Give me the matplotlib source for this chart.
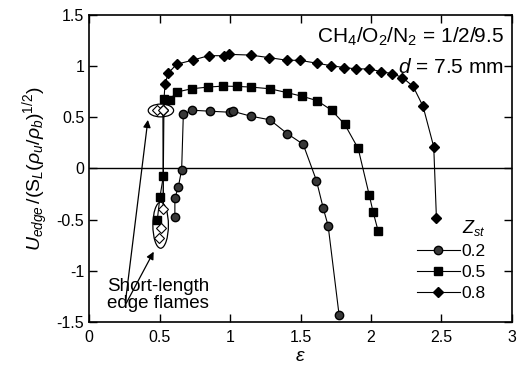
import matplotlib.pyplot as plt
from matplotlib.patches import Ellipse

plt.rcParams['font.family'] = ['Liberation Sans', 'DejaVu Sans']
plt.rcParams['mathtext.fontset'] = 'custom'
plt.rcParams['mathtext.rm'] = 'Liberation Sans'
plt.rcParams['mathtext.it'] = 'Liberation Sans:italic'

# Z_st = 0.2
eps_02 = [0.609, 0.609, 0.633, 0.657, 0.669, 0.728, 0.858, 0.999, 1.018, 1.146, 1.283,
          1.406, 1.519, 1.613, 1.661, 1.696, 1.774]
u_02 = [-0.477, -0.29, -0.184, -0.013, 0.526, 0.568, 0.558, 0.548, 0.558, 0.51, 0.474,
        0.339, 0.235, -0.119, -0.387, -0.561, -1.435]

# Z_st = 0.5
eps_05 = [0.484, 0.503, 0.527, 0.532, 0.574, 0.621, 0.728, 0.846, 0.952, 1.047, 1.146,
          1.283, 1.406, 1.514, 1.618, 1.72, 1.814, 1.909, 1.987, 2.015, 2.051]
u_05 = [-0.506, -0.281, -0.077, 0.681, 0.671, 0.745, 0.777, 0.794, 0.803, 0.8, 0.794,
        0.777, 0.739, 0.703, 0.661, 0.568, 0.429, 0.194, -0.258, -0.426, -0.613]

# Z_st = 0.8
eps_08 = [0.527, 0.539, 0.562, 0.621, 0.739, 0.848, 0.959, 0.995, 1.146, 1.278, 1.406,
          1.495, 1.618, 1.715, 1.81, 1.897, 1.987, 2.069, 2.147, 2.223, 2.299, 2.369,
          2.445, 2.464]
u_08 = [0.57, 0.823, 0.929, 1.016, 1.058, 1.1, 1.1, 1.113, 1.106, 1.081, 1.055,
        1.055, 1.026, 1.003, 0.984, 0.971, 0.971, 0.945, 0.926, 0.887, 0.8, 0.606,
        0.21, -0.484]

# short-length edge flames (open diamonds)
eps_short = [0.482, 0.525, 0.527, 0.508, 0.498]
u_short = [0.573, 0.565, -0.394, -0.587, -0.684]

fig = plt.figure(figsize=(5.19, 3.68), dpi=100)
ax = fig.add_axes([0.1715, 0.125, 0.815, 0.835])

ax.axhline(0, color='black', lw=1)

# vertical link of short flames
ax.plot([0.525, 0.527], [0.565, -0.394], color='black', lw=1)

ax.plot(eps_02, u_02, '-o', color='black', lw=0.8, ms=6, mfc='#383838', mec='black',
        label='0.2')
ax.plot(eps_05, u_05, '-s', color='black', lw=0.8, ms=6, label='0.5')
ax.plot(eps_08, u_08, '-D', color='black', lw=0.8, ms=4.8, label='0.8')
ax.plot(eps_short, u_short, 'D', ls='none', ms=5, mfc='white', mec='black', mew=0.8)

ax.add_patch(Ellipse((0.51, 0.565), 0.18, 0.125, fill=False, ec='black', lw=0.9))
ax.add_patch(Ellipse((0.508, -0.555), 0.11, 0.45, fill=False, ec='black', lw=0.9))

ax.annotate('', xy=(0.42, 0.5), xytext=(0.255, -1.34),
            arrowprops=dict(arrowstyle='-|>', color='black', lw=0.9, mutation_scale=11))
ax.annotate('', xy=(0.468, -0.79), xytext=(0.255, -1.34),
            arrowprops=dict(arrowstyle='-|>', color='black', lw=0.9, mutation_scale=11))
ax.text(0.125, -1.235, 'Short-length\nedge flames', fontsize=13.5, va='center', ha='left',
        linespacing=1.05)

ax.text(2.94, 1.28, r'CH$_4$/O$_2$/N$_2$ = 1/2/9.5', fontsize=15, ha='right', va='center')
ax.text(2.94, 0.98, r'$d$ = 7.5 mm', fontsize=15, ha='right', va='center')

leg = ax.legend(title=r'$Z_{st}$', loc='lower right', bbox_to_anchor=(0.955, 0.045),
                frameon=False, fontsize=12.5, handlelength=2.5, handletextpad=0.1,
                labelspacing=0.35, borderaxespad=0)
leg.get_title().set_fontsize(13)
leg._legend_box.align = 'right'

ax.set_xlim(0, 3)
ax.set_ylim(-1.5, 1.5)
ax.set_xticks([0, 0.5, 1, 1.5, 2, 2.5, 3])
ax.set_xticklabels(['0', '0.5', '1', '1.5', '2', '2.5', '3'])
ax.set_yticks([-1.5, -1, -0.5, 0, 0.5, 1, 1.5])
ax.set_yticklabels(['-1.5', '-1', '-0.5', '0', '0.5', '1', '1.5'])
ax.tick_params(direction='in', top=True, right=True, labelsize=11.5, length=6, width=1)
ax.tick_params(axis='x', pad=6)
for s in ax.spines.values():
    s.set_linewidth(1.2)

ax.set_xlabel(r'$\varepsilon$', fontsize=14, labelpad=2)
ax.set_ylabel(r'$U_{edge}\,/(\mathrm{S}_L(\rho_u/\rho_b)^{1/2})$', fontsize=14, labelpad=4)

fig.savefig('out.png', dpi=100)
